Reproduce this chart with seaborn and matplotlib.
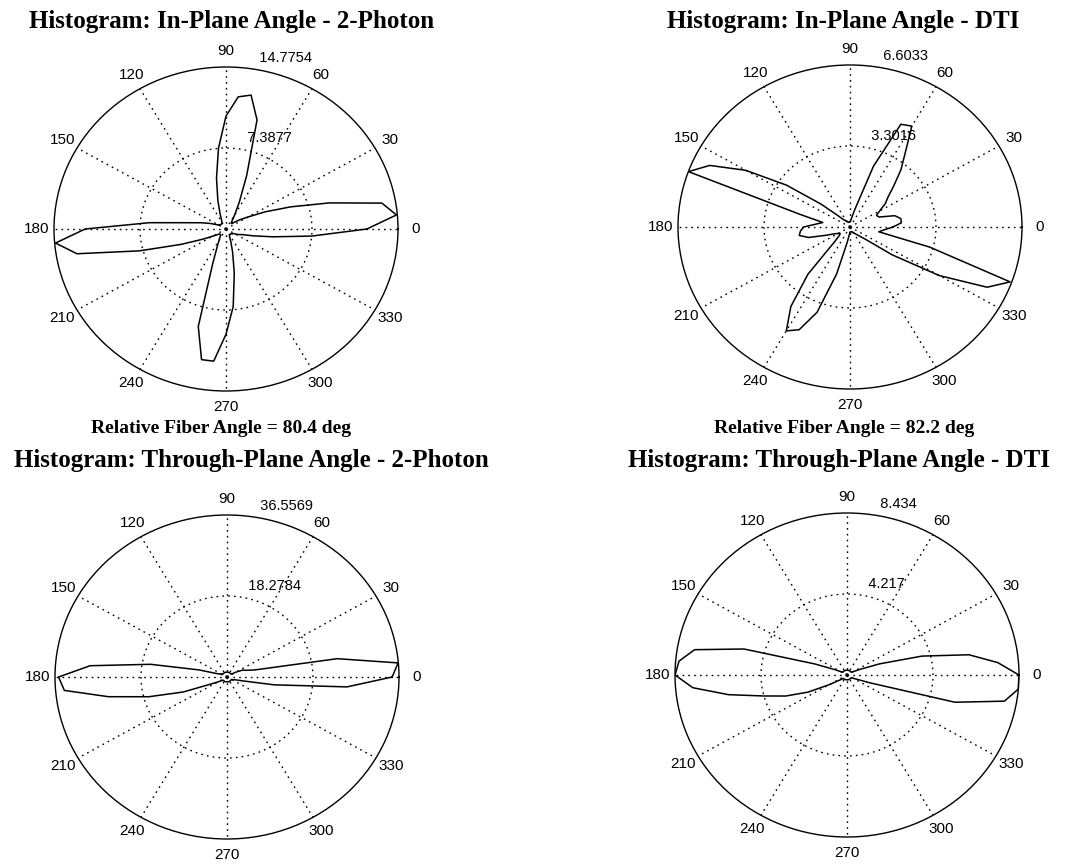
import numpy as np
import pandas as pd
import matplotlib
matplotlib.use("Agg")
import matplotlib.pyplot as plt
import seaborn as sns

# angle bins of the rose histograms (degrees)
angles = list(range(0, 360, 5))

# in-plane angle, 2-photon (counts read at every 5 deg)
inplane_2photon = [12.1, 14.7, 13.6, 9.2, 5.9, 3.7, 2.2, 1.5, 1.0, 0.7, 0.7, 0.9,
                   1.5, 2.7, 5.2, 10.3, 12.4, 12.1, 10.3, 7.4, 4.7, 2.7, 1.5, 0.9,
                   0.7, 0.6, 0.6, 0.6, 0.6, 0.7, 0.7, 1.0, 1.5, 2.2, 3.3, 6.6,
                   12.1, 14.7, 13.0, 7.7, 4.1, 2.2, 1.3, 0.9, 0.7, 0.7, 0.7, 0.9,
                   1.2, 1.8, 3.3, 9.2, 12.1, 12.1, 9.6, 7.1, 4.1, 2.2, 1.2, 0.7,
                   0.6, 0.6, 0.6, 0.6, 0.7, 0.7, 0.9, 1.2, 1.5, 2.4, 4.1, 7.4]

# in-plane angle, DTI
inplane_dti = [1.65, 1.98, 1.98, 1.78, 1.19, 1.12, 1.32, 1.65, 1.91, 2.38, 3.04, 3.70,
               4.75, 4.62, 2.64, 0.79, 0.40, 0.26, 0.20, 0.20, 0.20, 0.20, 0.20, 0.26,
               0.26, 0.33, 0.40, 0.66, 1.45, 2.97, 4.62, 5.94, 6.60, 1.98, 1.06, 1.32,
               1.78, 1.91, 1.98, 1.65, 0.99, 0.66, 0.53, 0.46, 0.53, 0.79, 2.51, 3.96,
               4.89, 4.62, 3.70, 1.98, 0.66, 0.33, 0.20, 0.20, 0.20, 0.20, 0.20, 0.26,
               0.26, 0.33, 0.40, 0.53, 0.79, 1.98, 3.96, 5.81, 6.54, 3.17, 1.12, 1.32]

# through-plane angle, 2-photon
through_2photon = [35.1, 36.5, 23.8, 6.2, 4.4, 3.7, 2.2, 1.1, 1.1, 1.1, 1.1, 1.1,
                   1.1, 1.1, 1.1, 1.1, 1.1, 1.1, 1.1, 1.1, 1.1, 1.1, 1.1, 1.1,
                   1.1, 1.1, 1.1, 1.1, 1.1, 1.1, 1.1, 1.5, 2.2, 6.2, 16.5, 29.2,
                   35.8, 34.7, 25.6, 17.2, 9.9, 3.7, 2.2, 1.5, 1.1, 1.1, 1.1, 1.1,
                   1.1, 1.1, 1.1, 1.1, 1.1, 1.1, 1.1, 1.1, 1.1, 1.1, 1.1, 1.1,
                   1.1, 1.1, 1.1, 1.1, 1.1, 1.1, 1.1, 1.5, 1.8, 3.3, 10.2, 25.6]

# through-plane angle, DTI
through_dti = [8.43, 7.42, 6.07, 3.80, 1.69, 0.67, 0.34, 0.25, 0.25, 0.25, 0.25, 0.25,
               0.25, 0.25, 0.25, 0.25, 0.25, 0.25, 0.25, 0.25, 0.25, 0.25, 0.25, 0.25,
               0.25, 0.25, 0.25, 0.25, 0.25, 0.25, 0.34, 0.67, 1.69, 5.23, 7.59, 8.27,
               8.43, 7.59, 5.90, 4.22, 3.20, 2.11, 1.01, 0.51, 0.34, 0.25, 0.25, 0.25,
               0.25, 0.25, 0.25, 0.25, 0.25, 0.25, 0.25, 0.25, 0.25, 0.25, 0.25, 0.25,
               0.25, 0.25, 0.25, 0.25, 0.25, 0.25, 0.34, 0.51, 1.18, 5.48, 7.84, 8.43]

r_max = [14.7754, 6.6033, 36.5569, 8.434]
r_tick_labels = [["7.3877", "14.7754"], ["3.3016", "6.6033"],
                 ["18.2784", "36.5569"], ["4.217", "8.434"]]
titles = ["Histogram: In-Plane Angle - 2-Photon",
          "Histogram: In-Plane Angle - DTI",
          "Histogram: Through-Plane Angle - 2-Photon",
          "Histogram: Through-Plane Angle - DTI"]
fiber_notes = ["Relative Fiber Angle = 80.4 deg",
               "Relative Fiber Angle = 82.2 deg", None, None]
theta_ticks = list(range(0, 360, 30))

series = [inplane_2photon, inplane_dti, through_2photon, through_dti]

sns.set_theme(style="white")
plt.rcParams["font.family"] = ["Liberation Sans", "DejaVu Sans"]
plt.rcParams["text.color"] = "black"

W, H = 1073, 864
fig = plt.figure(figsize=(W / 100, H / 100), dpi=100)
fig.patch.set_facecolor("white")

# polar centres and radii in pixels (slightly squashed like the scan)
centers = [(226, 229), (850, 227), (227, 677), (847, 675)]
rx, ry = 172, 162
title_pos = [(232, 28), (843, 28), (251, 467), (839, 467)]
note_pos = [(221, 433), (844, 433)]

dots = (0, (1.2, 3.0))

for i, vals in enumerate(series):
    cx, cy = centers[i]
    ax = fig.add_axes([(cx - rx) / W, 1 - (cy + ry) / H, 2 * rx / W, 2 * ry / H],
                      projection="polar")
    ax.set_aspect("auto")
    df = pd.DataFrame({"theta": np.deg2rad(angles + [360]),
                       "r": vals + [vals[0]]})
    sns.lineplot(data=df, x="theta", y="r", ax=ax, sort=False, estimator=None,
                 color="black", linewidth=1.1)
    rm = r_max[i]
    ax.set_ylim(0, rm)
    ax.set_thetagrids(theta_ticks, labels=[""] * len(theta_ticks))
    ax.set_rgrids([rm / 2], labels=[""])
    ax.grid(True, color="black", linestyle=dots, linewidth=1.0)
    ax.spines["polar"].set_color("black")
    ax.spines["polar"].set_linewidth(1.0)
    ax.set_facecolor("white")
    ax.set_xlabel("")
    ax.set_ylabel("")
    for a in theta_ticks:
        ax.text(np.deg2rad(a), 1.1 * rm, str(a), ha="center", va="center",
                fontsize=11, color="black")
    for k, lab in enumerate(r_tick_labels[i]):
        ax.text(np.deg2rad(82), (0.525 + 0.5 * k) * rm, "  " + lab,
                ha="left", va="bottom", fontsize=10.5, color="black")

    tx, ty = title_pos[i]
    fig.text(tx / W, 1 - ty / H, titles[i], ha="center", va="baseline",
             fontsize=18, fontweight="bold", family="Liberation Serif",
             color="black")
    if fiber_notes[i]:
        nx, ny = note_pos[i]
        fig.text(nx / W, 1 - ny / H, fiber_notes[i], ha="center", va="baseline",
                 fontsize=14, fontweight="bold", family="Liberation Serif",
                 color="black")

fig.savefig("out.png", dpi=100, facecolor="white")
